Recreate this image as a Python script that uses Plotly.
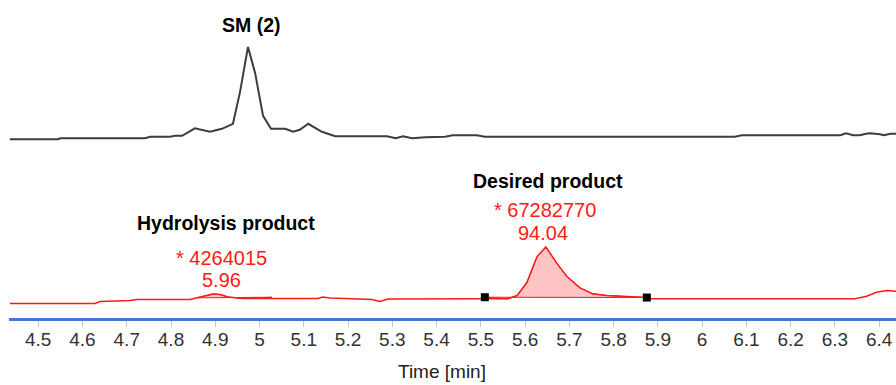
import numpy as np
import plotly.graph_objects as go

# ---------------- data ----------------
# Top trace: SM (2) chromatogram (time in min, signal in arbitrary units)
sm_time = [4.436, 4.545, 4.549, 4.741, 4.753, 4.798, 4.809, 4.825, 4.854, 4.888,
           4.915, 4.940, 4.956, 4.974, 4.990, 5.008, 5.026, 5.058, 5.076, 5.091,
           5.110, 5.141, 5.171, 5.288, 5.308, 5.324, 5.345, 5.374, 5.419, 5.437,
           5.491, 5.509, 6.074, 6.090, 6.312, 6.325, 6.341, 6.357, 6.370, 6.379,
           6.402, 6.411, 6.425, 6.438]
sm_signal = [0, 0, 1, 1, 2.5, 2.5, 3.5, 3.5, 11, 7.5,
             10.5, 15.5, 47.5, 92.5, 66.5, 23.5, 10.5, 10.5, 7.5, 9.5,
             15.5, 7.5, 3, 3, 1, 3, 1, 2, 2.5, 4,
             4, 2.5, 2.5, 4, 4, 6, 4, 4, 5.5, 6,
             5, 4, 5.5, 5.5]

# Bottom trace: reaction mixture chromatogram
rx_time = [4.436, 4.628, 4.640, 4.707, 4.723, 4.843, 4.866, 4.881, 4.895, 4.911,
           4.929, 4.963, 5.132, 5.143, 5.159, 5.193, 5.254, 5.272, 5.290, 5.509,
           5.561, 5.582, 5.604, 5.627, 5.647, 5.671, 5.694, 5.724, 5.753, 5.784,
           5.830, 5.875, 5.882, 6.345, 6.372, 6.394, 6.417, 6.438]
rx_signal = [0, 0, 2, 3, 4, 4, 6.5, 8, 9.5, 9,
             6.5, 5, 5, 6.5, 5.5, 5, 4, 2, 4.5, 4.7,
             4.7, 8, 21, 47, 56.7, 40.7, 27.3, 15.7, 9.7, 8,
             7.3, 6, 4.7, 4.7, 7.3, 11.3, 13, 12.3]

# Integrated peaks: [start, end] times, baseline signal at start/end
peak_names = ["Hydrolysis product", "Desired product"]
peak_bounds = [[4.861, 5.028], [5.509, 5.875]]
peak_base = [[5.7, 6.3], [6.3, 6.0]]
peak_area = ["4264015", "67282770"]
peak_pct = ["5.96", "94.04"]

tick_vals = [4.5, 4.6, 4.7, 4.8, 4.9, 5.0, 5.1, 5.2, 5.3, 5.4,
             5.5, 5.6, 5.7, 5.8, 5.9, 6.0, 6.1, 6.2, 6.3, 6.4]
tick_text = ["4.5", "4.6", "4.7", "4.8", "4.9", "5", "5.1", "5.2", "5.3", "5.4",
             "5.5", "5.6", "5.7", "5.8", "5.9", "6", "6.1", "6.2", "6.3", "6.4"]

# stacking offsets for the two chromatograms
RX_OFFSET = 14.5
SM_OFFSET = 179.0

FONT = "Arial, 'Liberation Sans', sans-serif"
RED = "#ff1a1a"

fig = go.Figure()

rt = np.array(rx_time)
rs = np.array(rx_signal) + RX_OFFSET

# peak fills
for (t0, t1), (b0, b1) in zip(peak_bounds, peak_base):
    m = (rt > t0) & (rt < t1)
    xs = [t0] + list(rt[m]) + [t1]
    ys = [b0 + RX_OFFSET] + list(rs[m]) + [b1 + RX_OFFSET]
    fig.add_trace(go.Scatter(x=xs + [t0], y=ys + [b0 + RX_OFFSET], mode="lines",
                             fill="toself", fillcolor="rgba(255,60,60,0.3)",
                             line=dict(color=RED, width=1), hoverinfo="skip",
                             showlegend=False))

fig.add_trace(go.Scatter(x=sm_time, y=np.array(sm_signal) + SM_OFFSET, mode="lines",
                         line=dict(color="#3d3d3d", width=2), showlegend=False))
fig.add_trace(go.Scatter(x=rx_time, y=rs, mode="lines",
                         line=dict(color=RED, width=1.5), showlegend=False))

# integration markers for the desired product
fig.add_trace(go.Scatter(x=peak_bounds[1], y=[v + RX_OFFSET for v in peak_base[1]],
                         mode="markers", marker=dict(symbol="square", size=8, color="black"),
                         showlegend=False))

ann = []
ann.append(dict(x=4.981, y=293, text="<b>SM (2)</b>", font=dict(size=19.5, color="black")))
ann.append(dict(x=4.924, y=95.2, text="<b>%s</b>" % peak_names[0], font=dict(size=19.5, color="black")))
ann.append(dict(x=4.913, y=60.2, text="* " + peak_area[0], font=dict(size=20, color=RED)))
ann.append(dict(x=4.913, y=38.5, text=peak_pct[0], font=dict(size=20, color=RED)))
ann.append(dict(x=5.651, y=136.8, text="<b>%s</b>" % peak_names[1], font=dict(size=19.5, color="black")))
ann.append(dict(x=5.645, y=108.5, text="* " + peak_area[1], font=dict(size=20, color=RED)))
ann.append(dict(x=5.640, y=85.2, text=peak_pct[1], font=dict(size=20, color=RED)))
for a in ann:
    a.update(xref="x", yref="y", showarrow=False, xanchor="center", yanchor="middle")
    a["font"]["family"] = FONT
ann.append(dict(x=(442 - 9) / 887, y=(318.5 - 372) / 318.5, xref="paper", yref="paper",
                text="Time [min]", showarrow=False, xanchor="center", yanchor="middle",
                font=dict(size=19, color="#222", family=FONT)))

fig.update_layout(
    width=896, height=385,
    margin=dict(l=9, r=0, t=0, b=66.5),
    paper_bgcolor="white", plot_bgcolor="white",
    annotations=ann,
    font=dict(family=FONT, size=17, color="#333"),
    xaxis=dict(range=[4.434, 6.438], tickvals=tick_vals, ticktext=tick_text,
               showline=True, linecolor="#4a76d0", linewidth=3,
               ticks="outside", ticklen=6, tickwidth=1, tickcolor="#c8c8c8",
               ticklabelstandoff=-4,
               showgrid=False, zeroline=False,
               tickfont=dict(size=19, color="#333", family=FONT)),
    yaxis=dict(range=[0, 318.5], visible=False, showgrid=False, zeroline=False),
)

fig.write_html("out.html", config={"displayModeBar": False},
               post_script="document.body.style.margin='0';document.body.style.overflow='hidden';")
